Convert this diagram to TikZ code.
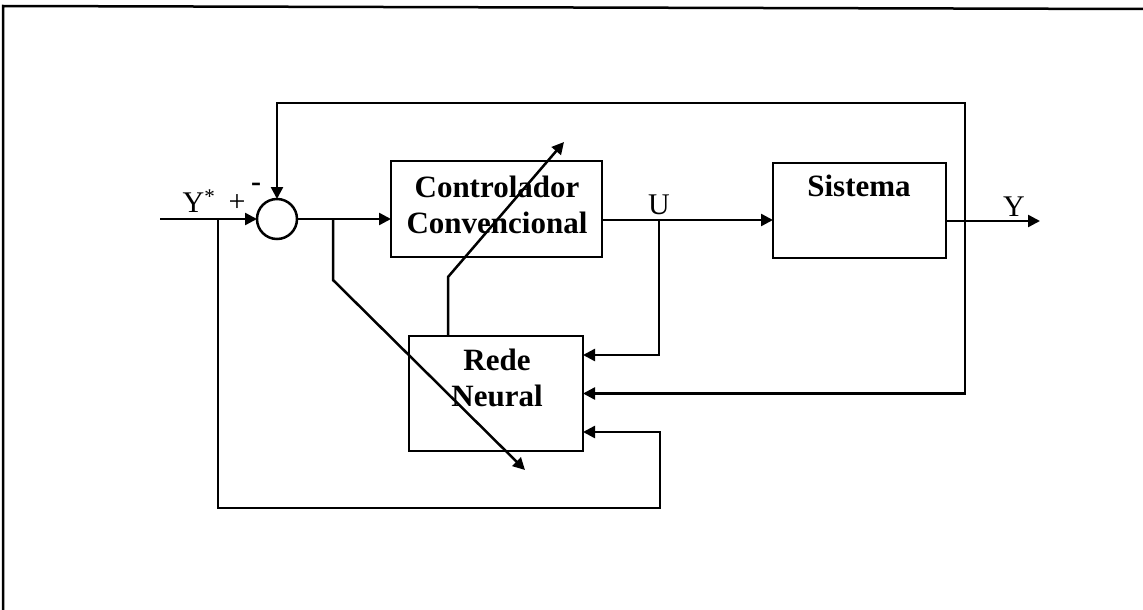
\documentclass[tikz,border=0pt]{standalone}
\usepackage{fontspec}
\setmainfont{Liberation Serif}
\usetikzlibrary{arrows.meta,calc}
\begin{document}
\begin{tikzpicture}[x=1pt,y=-1pt,
  line width=2.5pt,
  every node/.style={inner sep=0pt,outer sep=0pt},
  blk/.style={draw,line width=2.5pt,rectangle},
  bigtxt/.style={font=\fontsize{31}{36}\selectfont\bfseries,align=center},
  lbl/.style={font=\fontsize{30}{34}\selectfont},
  arr/.style={-{Triangle[length=12pt,width=12pt]}}]
\useasboundingbox (0,0) rectangle (1143,610);
% frame
\draw (3,610) -- (3,6) -- (1143,9);
% blocks
\node[draw,circle,minimum size=40pt] (sum) at (277,219) {};
\node[blk,minimum width=211pt,minimum height=96pt] (ctrl) at (496.5,209) {};
\node[bigtxt] (ctrlT) at (497,205) {Controlador\\Convencional};
\node[blk,minimum width=173pt,minimum height=95pt] (sys) at (859.5,210.5) {};
\node[bigtxt] (sysT) at (859,186) {Sistema};
\node[blk,minimum width=174pt,minimum height=115pt] (nn) at (496,393.5) {};
\node[bigtxt] (nnT) at (497,378) {Rede\\Neural};
% coordinates
\coordinate (in) at (160,219);
\coordinate (b1) at (218,219);
\coordinate (d0) at (333,219);
\coordinate (d1) at (333,280);
\coordinate (d2) at (525,470);
\coordinate (u) at (659,220);
\coordinate (yo) at (965,221);
\coordinate (out) at (1040,221);
\coordinate (top) at (965,103);
\coordinate (bl) at (660,508);
\coordinate (a0) at (448,277);
\coordinate (a1) at (564,142);
% labels
\node[lbl] (ystar) at (199,201) {Y\textsuperscript{*}};
\node[lbl] (plus) at (237,203) {+};
\node[lbl,font=\fontsize{30}{34}\selectfont\bfseries] (minus) at (256,187) {-};
\node[lbl,anchor=south] (ulab) at ($(u)+(0,-5)$) {U};
\node[lbl,anchor=south] (ylab) at (1014,216) {Y};
% connectors
\draw[arr] (in) -- (sum.west);
\draw[arr] (sum.east) -- (sum.east -| ctrl.west);
\draw[arr] (ctrl.east |- u) -- (sys.west |- u);
\draw[arr] (sys.east |- yo) -- (out);
\draw[arr] (yo) -- (top) -| (sum.north);
\draw[arr] (yo) |- (nn.east);
\draw[arr] (u) |- ($(nn.north east)+(0,19)$);
\draw[arr] (b1) |- (bl) |- ($(nn.south east)+(0,-19)$);
\draw[arr] (d0) -- (d1) -- (d2);
\draw[arr] (nn.north -| a0) -- (a0) -- (a1);
\end{tikzpicture}
\end{document}
